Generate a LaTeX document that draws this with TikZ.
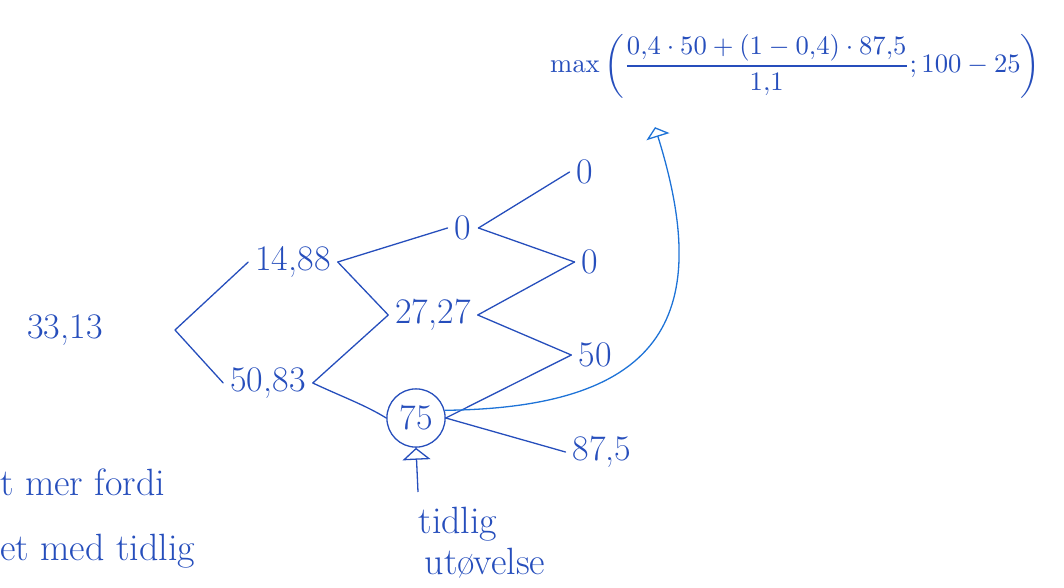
\documentclass[tikz,border=0pt]{standalone}
\usetikzlibrary{arrows.meta}
\definecolor{penblue}{RGB}{38,78,188}
\definecolor{curveblue}{RGB}{30,115,215}
\begin{document}
\begin{tikzpicture}[x=1pt,y=-1pt,
  val/.style={text=penblue,font=\fontsize{36}{40}\selectfont,inner sep=7pt},
  note/.style={text=penblue,font=\fontsize{38}{42}\selectfont,inner sep=0pt},
  branch/.style={draw=penblue,line width=1.3pt,line cap=round},
  hint/.style={draw=penblue,line width=1.3pt,-{Triangle[open,length=12pt,width=28pt]}},
  bigcurve/.style={draw=curveblue,line width=1.3pt,-{Triangle[open,length=10pt,width=24pt]}}]
\useasboundingbox (0,0) rectangle (1064,588);
% nodes
\node[val] (root) at (65,330) {33,13};
\coordinate (rv) at (175,330);
\node[val] (A) at (293,262) {14,88};
\node[val] (B) at (268,383) {50,83};
\node[val] (C) at (463,228) {0};
\node[val] (D) at (433,315) {27,27};
\node[val,draw=penblue,circle,line width=1.3pt,inner sep=6pt] (E) at (416,418) {75};
\node[val] (F) at (585,172) {0};
\node[val] (G) at (590,262) {0};
\node[val] (H) at (595,355) {50};
\node[val] (I) at (602,452) {87,5};
% formula
\node[text=penblue,inner sep=0pt,anchor=west] (formula) at (550,66)
  {\resizebox{490pt}{!}{$\displaystyle\max\left(\frac{0{,}4\cdot 50+(1-0{,}4)\cdot 87{,}5}{1{,}1};100-25\right)$}};
% annotations
\node[note,anchor=base west] (l1) at (0,495) {t mer fordi};
\node[note,anchor=base west] (l2) at (0,560) {et med tidlig};
\node[note] (t1) at (458,524) {tidlig};
\node[note] (t2) at (485,563) {utøvelse};
\coordinate (tail) at (418,492);
% branches
\draw[branch] (rv) -- (A.west);
\draw[branch] (rv) -- (B.west);
\draw[branch] (A.east) -- (C.west);
\draw[branch] (A.east) -- (D.west);
\draw[branch] (B.east) -- (D.west);
\draw[branch] (B.east) .. controls (345,398) and (365,405) .. (E.west);
\draw[branch] (C.east) -- (F.west);
\draw[branch] (C.east) -- (G.west);
\draw[branch] (D.east) -- (G.west);
\draw[branch] (D.east) -- (H.west);
\draw[branch] (E.east) -- (H.west);
\draw[branch] (E.east) -- (I.west);
% arrows
\draw[hint] (tail) -- (E.south);
\draw[bigcurve] (E.15) .. controls (670,408) and (712,310) .. ([xshift=105pt,yshift=-29pt]formula.south west);
\end{tikzpicture}
\end{document}
